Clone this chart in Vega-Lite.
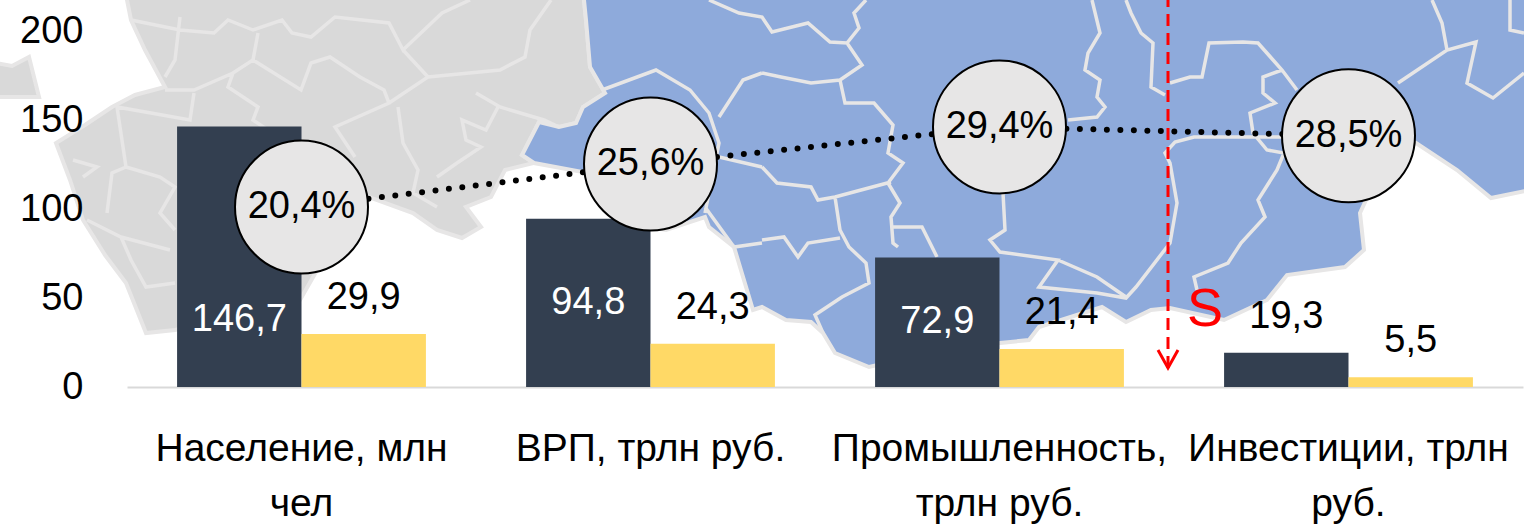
{
"$schema":"https://vega.github.io/schema/vega-lite/v6.json",
"width":1396,"height":387,
"autosize":{"type":"none"},
"padding":{"left":127,"top":0,"right":1,"bottom":140},
"background":"white",
"config":{"view":{"stroke":null},"font":"Liberation Sans"},
"projection":{"type":"identity","scale":1,"translate":[-127,0]},
"datasets":{
"bars":[
{"cat":"Население, млн чел","series":"Россия","value":146.7,"txt":"146,7"},
{"cat":"Население, млн чел","series":"Регион","value":29.9,"txt":"29,9"},
{"cat":"ВРП, трлн руб.","series":"Россия","value":94.8,"txt":"94,8"},
{"cat":"ВРП, трлн руб.","series":"Регион","value":24.3,"txt":"24,3"},
{"cat":"Промышленность, трлн руб.","series":"Россия","value":72.9,"txt":"72,9"},
{"cat":"Промышленность, трлн руб.","series":"Регион","value":21.4,"txt":"21,4"},
{"cat":"Инвестиции, трлн руб.","series":"Россия","value":19.3,"txt":"19,3"},
{"cat":"Инвестиции, трлн руб.","series":"Регион","value":5.5,"txt":"5,5"}
],
"share":[
{"cat":"Население, млн чел","level":101.4,"txt":"20,4%"},
{"cat":"ВРП, трлн руб.","level":125.6,"txt":"25,6%"},
{"cat":"Промышленность, трлн руб.","level":146.5,"txt":"29,4%"},
{"cat":"Инвестиции, трлн руб.","level":141.5,"txt":"28,5%"}
],
"grey":[
{"type":"Feature","properties":{},"geometry":{"type":"Polygon","coordinates":[[[125,-10],[131,20],[145,50],[165,87],[135,95],[112,107],[85,125],[56,143],[70,180],[83,220],[105,255],[126,283],[146,333],[175,330],[300,300],[340,230],[369,197],[413,213],[437,230],[462,238],[481,227],[466,207],[491,197],[505,170],[534,163],[522,155],[539,122],[559,127],[576,123],[583,107],[605,93],[590,67],[586,20],[583,-10],[125,-10]]]}},
{"type":"Feature","properties":{},"geometry":{"type":"Polygon","coordinates":[[[-10,62],[12,66],[29,57],[39,97],[-10,97],[-10,62]]]}}
],
"blue":[
{"type":"Feature","properties":{},"geometry":{"type":"Polygon","coordinates":[[[583,-10],[586,20],[590,67],[605,93],[583,107],[576,123],[559,127],[539,122],[522,155],[534,163],[583,172],[640,225],[666,230],[705,217],[709,227],[734,247],[753,310],[762,307],[786,320],[811,322],[823,333],[835,353],[869,367],[900,360],[1000,343],[1029,340],[1039,327],[1102,307],[1126,322],[1151,310],[1170,308],[1224,320],[1267,300],[1287,275],[1345,267],[1364,250],[1360,213],[1380,170],[1416,143],[1457,170],[1491,198],[1540,188],[1540,-10],[583,-10]]]}}
],
"borders":[
{"type":"Feature","properties":{},"geometry":{"type":"MultiLineString","coordinates":[
[[180,17],[175,60],[165,77]],
[[131,20],[180,30],[214,33],[228,20],[253,30],[282,20],[292,33],[311,37],[335,17],[389,23],[403,50],[442,13],[470,0]],
[[258,33],[253,60],[233,73],[194,90],[165,90]],
[[233,73],[228,87],[258,107],[253,120],[290,145]],
[[253,60],[301,90],[311,63],[330,57],[360,77],[384,90],[389,103],[335,127],[355,157]],
[[403,50],[428,77],[389,103]],
[[428,77],[500,70],[525,57],[530,30],[551,0]],
[[476,93],[500,107],[544,120],[559,127]],
[[398,107],[403,143],[418,170],[413,193],[437,207]],
[[498,107],[486,130],[462,120],[466,140],[481,147],[457,163],[437,177]],
[[194,93],[190,120],[117,107],[126,167],[112,173],[107,213]],
[[126,167],[160,177],[175,187],[160,213],[175,230]],
[[87,220],[121,237],[170,250]],
[[121,237],[131,260],[146,287],[175,283]],
[[73,160],[97,167],[83,177]],
[[602,90],[656,70],[690,90],[709,113],[719,143],[705,213]],
[[719,117],[743,80],[762,73]],
[[719,157],[762,167]],
[[705,207],[734,247],[762,243]],
[[709,0],[739,13],[762,17],[772,32],[808,23],[830,42],[847,43],[859,28],[854,13],[866,0]],
[[847,43],[862,65],[840,80],[811,83],[781,77],[762,73]],
[[840,80],[845,103],[874,103],[893,125],[888,153],[903,163],[888,183],[900,203],[891,217],[893,243],[898,247]],
[[893,227],[922,227],[937,257]],
[[762,167],[777,183],[811,187],[818,200],[835,197],[891,182]],
[[835,197],[840,230],[849,247],[866,263],[869,283],[842,297],[815,315],[823,333]],
[[762,240],[784,237],[798,257],[808,243],[840,238]],
[[1003,193],[1005,230],[990,240],[1000,252],[1058,260],[1039,287],[1097,293],[1126,298],[1136,287],[1170,243],[1177,203],[1170,163],[1165,153],[1175,142],[1194,137],[1282,137]],
[[1058,260],[1097,277],[1126,297]],
[[1068,120],[1097,117],[1105,107],[1097,97],[1100,80],[1085,70],[1088,53],[1100,33],[1092,0]],
[[1126,0],[1131,13],[1141,33],[1153,43],[1151,87],[1165,95]],
[[1170,83],[1190,77],[1202,77],[1209,43],[1243,42],[1258,43],[1282,70],[1297,90]],
[[1282,70],[1263,77],[1263,93],[1275,103],[1250,113],[1253,133],[1267,150],[1284,153],[1277,170],[1258,200],[1265,217],[1241,243],[1228,263],[1194,277],[1197,290]],
[[1398,83],[1447,50],[1476,42],[1467,83],[1493,98],[1524,73]],
[[1447,50],[1442,23],[1432,0]],
[[1510,0],[1510,30],[1524,33]]
]}}
],
"axis":[
{"type":"Feature","properties":{},"geometry":{"type":"LineString","coordinates":[[1168,-5],[1168,368]]}}
],
"head":[
{"type":"Feature","properties":{},"geometry":{"type":"LineString","coordinates":[[1158,350],[1168,368],[1178,350]]}}
],
"south":[{"lon":1205,"lat":310,"txt":"S"}]
},
"layer":[
{"data":{"name":"grey"},"mark":{"type":"geoshape","clip":false,"fill":"#d9d9d9","stroke":"#e7e6e6","strokeWidth":4},"encoding":{}},
{"data":{"name":"blue"},"mark":{"type":"geoshape","clip":false,"fill":"#8eaadb","stroke":"#e7e6e6","strokeWidth":4},"encoding":{}},
{"data":{"name":"borders"},"mark":{"type":"geoshape","clip":false,"filled":false,"fill":null,"stroke":"#e7e6e6","strokeWidth":3.5},"encoding":{}},
{"data":{"name":"axis"},"mark":{"type":"geoshape","clip":false,"filled":false,"fill":null,"stroke":"#ff0000","strokeWidth":3,"strokeDash":[12,7]},"encoding":{}},
{"data":{"name":"head"},"mark":{"type":"geoshape","clip":false,"filled":false,"fill":null,"stroke":"#ff0000","strokeWidth":3},"encoding":{}},
{"data":{"name":"south"},"mark":{"type":"text","font":"Liberation Sans","fontSize":54,"fill":"#ff0000","baseline":"middle","align":"center"},"encoding":{"longitude":{"field":"lon","type":"quantitative"},"latitude":{"field":"lat","type":"quantitative"},"text":{"field":"txt"}}},
{"data":{"name":"bars"},"mark":{"type":"bar"},
"encoding":{
"x":{"field":"cat","type":"nominal","sort":null,"title":null,"scale":{"paddingInner":0.287,"paddingOuter":0.1435},
"axis":{"labelExpr":"datum.label=='Население, млн чел'?['Население, млн','чел']:datum.label=='Промышленность, трлн руб.'?['Промышленность,','трлн руб.']:datum.label=='Инвестиции, трлн руб.'?['Инвестиции, трлн','руб.']:datum.label","labelAngle":0,"labelFontSize":39,"labelFont":"Liberation Sans","labelColor":"#000000","labelLineHeight":55,"labelPadding":42,"labelBaseline":"top","labelOverlap":false,"labelLimit":0,"labelBound":false,"labelFlush":false,"ticks":false,"domainColor":"#d9d9d9","domainWidth":2}},
"xOffset":{"field":"series","type":"nominal","sort":["Россия","Регион"],"scale":{"paddingInner":0,"paddingOuter":0}},
"y":{"field":"value","type":"quantitative","title":null,"scale":{"domain":[0,218],"nice":false,"zero":true},
"axis":{"values":[0,50,100,150,200],"grid":false,"ticks":false,"domain":false,"zindex":1,"labelFontSize":38,"labelFont":"Liberation Sans","labelColor":"#000000","labelPadding":44,"labelBound":false,"labelFlush":false}},
"color":{"field":"series","type":"nominal","legend":null,"sort":["Россия","Регион"],"scale":{"domain":["Россия","Регион"],"range":["#333f50","#ffd966"]}}
}},
{"data":{"name":"bars"},"transform":[{"filter":"datum.series=='Россия' && datum.value>30"},{"calculate":"datum.value>100?38:datum.value/2","as":"labelAt"}],"mark":{"type":"text","font":"Liberation Sans","fontSize":38,"fill":"#ffffff","baseline":"middle"},
"encoding":{
"x":{"field":"cat","type":"nominal","sort":null},
"xOffset":{"field":"series","type":"nominal","sort":["Россия","Регион"],"scale":{"domain":["Россия","Регион"]}},
"y":{"field":"labelAt","type":"quantitative"},
"text":{"field":"txt"}}},
{"data":{"name":"bars"},"transform":[{"filter":"!(datum.series=='Россия' && datum.value>30)"}],"mark":{"type":"text","font":"Liberation Sans","fontSize":38,"fill":"#000000","baseline":"middle","dy":-36},
"encoding":{
"x":{"field":"cat","type":"nominal","sort":null},
"xOffset":{"field":"series","type":"nominal","sort":["Россия","Регион"],"scale":{"domain":["Россия","Регион"]}},
"y":{"field":"value","type":"quantitative"},
"text":{"field":"txt"}}},
{"data":{"name":"share"},"mark":{"type":"line","stroke":"#000000","strokeWidth":6,"strokeDash":[0,13.5],"strokeCap":"round"},
"encoding":{"x":{"field":"cat","type":"nominal","sort":null},"y":{"field":"level","type":"quantitative"}}},
{"data":{"name":"share"},"mark":{"type":"point","shape":"circle","filled":true,"fill":"#e7e6e6","stroke":"#000000","strokeWidth":2,"opacity":1,"size":17689},
"encoding":{"x":{"field":"cat","type":"nominal","sort":null},"y":{"field":"level","type":"quantitative"}}},
{"data":{"name":"share"},"mark":{"type":"text","font":"Liberation Sans","fontSize":38,"fill":"#000000","baseline":"middle"},
"encoding":{"x":{"field":"cat","type":"nominal","sort":null},"y":{"field":"level","type":"quantitative"},"text":{"field":"txt"}}}
]
}
